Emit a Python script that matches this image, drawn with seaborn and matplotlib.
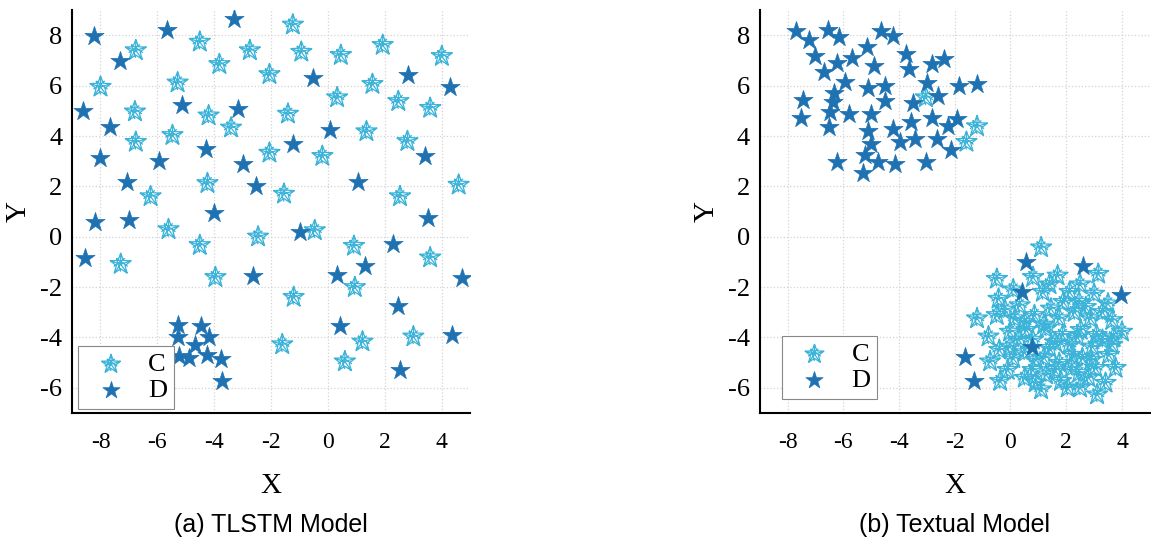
import numpy as np
import pandas as pd
import matplotlib
matplotlib.use("Agg")
import matplotlib.pyplot as plt
from matplotlib.path import Path
import seaborn as sns

# --- Data ---
CLASS_NAMES = ["C", "D"]
X_TICKS = [-8, -6, -4, -2, 0, 2, 4]
Y_TICKS = [-6, -4, -2, 0, 2, 4, 6, 8]
PANEL_TITLES = ["(a) TLSTM Model", "(b) Textual Model"]

left_c_x = [-1.24, -6.76, -4.51, -2.75, -0.94, 0.45, 1.92, 4.0, -3.82, -8.0,
            -5.29, -2.06, 1.56, 0.32, 2.47, 3.59, -6.79, -4.2, -1.41, -3.41,
            -5.47, -6.76, 1.35, 2.79, -2.06, -0.2, -4.24, 4.59, -6.24, -1.55,
            2.53, -5.61, -0.47, -2.46, -4.51, 0.91, -7.29, 3.59, -3.96, 0.94,
            -1.21, -1.61, 1.21, 3.0, 0.59]
left_c_y = [8.42, 7.4, 7.74, 7.4, 7.34, 7.21, 7.61, 7.17, 6.85, 5.95,
            6.12, 6.45, 6.06, 5.53, 5.38, 5.11, 4.97, 4.81, 4.88, 4.33,
            4.03, 3.76, 4.18, 3.79, 3.33, 3.2, 2.12, 2.06, 1.6, 1.7,
            1.6, 0.29, 0.25, 0.0, -0.34, -0.37, -1.09, -0.83, -1.61, -2.01,
            -2.4, -4.28, -4.17, -3.97, -4.96]

left_d_x = [-8.24, -5.65, -3.32, -7.33, -0.53, 2.82, 4.29, -8.61, -5.15, -3.18,
            -7.67, 0.06, -1.24, -4.29, -8.0, -5.94, -3.0, 3.41, -7.08, -2.53,
            1.06, -8.18, -7.0, -4.0, 3.53, -1.0, 2.27, -8.53, 1.29, -2.65,
            0.32, 4.71, 2.47, 0.41, 4.35, 2.53, -5.29, -4.47, -5.26, -4.2,
            -4.67, -5.24, -4.88, -4.24, -3.76, -3.73]
left_d_y = [7.99, 8.2, 8.66, 6.98, 6.32, 6.43, 5.93, 4.98, 5.23, 5.08,
            4.35, 4.25, 3.7, 3.5, 3.11, 3.02, 2.91, 3.2, 2.19, 2.03,
            2.19, 0.58, 0.68, 0.94, 0.75, 0.18, -0.28, -0.83, -1.15, -1.55,
            -1.52, -1.65, -2.75, -3.54, -3.91, -5.29, -3.49, -3.54, -3.97, -3.97,
            -4.3, -4.73, -4.8, -4.7, -4.87, -5.72]

right_c_x = [-3.04, -1.2, -1.58,
             1.1, 3.15, -0.49, 0.81, 1.69, 1.16, -0.43, 2.12, 3.0, 3.5,
             2.46, 0.33, 1.45, -1.2, -0.49, 0.16, 0.86, 1.75, 2.87, 3.65,
             4.0, -0.79, -0.02, 0.57, 1.28, 1.87, 2.52, 3.09, -0.02, 1.4,
             2.11, 2.94, 3.65, -0.73, 0.1, 0.92, 1.75, 2.58, 3.53, 3.77,
             -0.37, 0.51, 1.28, 2.46, 3.05, 3.41, 1.1, 2.05, 3.11, 1.81,
             -0.2, 0.5, 1.2, 2.3, 2.7, 3.3, 0.3, 0.8, 1.6, 2.4, 3.3,
             -0.4, 0.5, 1.2, 2.2, 2.9, -0.1, 0.8, 1.6, 2.2, 2.8, 0.9,
             2.5, 3.7, 1.9, 0.1, 2.5, 1.4]
right_c_y = [5.53, 4.38, 3.76,
             -0.43, -1.48, -1.68, -1.61, -1.55, -2.2, -2.47, -2.2, -2.27, -2.66,
             -2.6, -2.73, -2.86, -3.25, -3.12, -3.25, -3.12, -3.25, -3.25, -3.32,
             -3.78, -3.97, -3.78, -3.71, -3.65, -3.91, -3.71, -3.91, -4.37, -4.43,
             -4.3, -4.37, -4.3, -4.96, -4.83, -4.89, -5.02, -4.83, -4.7, -5.22,
             -5.74, -5.61, -5.48, -5.42, -5.22, -5.81, -6.07, -6.0, -6.27, -5.74,
             -2.9, -3.4, -3.5, -3.0, -2.8, -3.0, -4.1, -4.1, -4.2, -4.0, -4.1,
             -4.5, -4.6, -4.8, -4.7, -4.9, -5.3, -5.3, -5.3, -5.2, -5.6, -5.8,
             -6.0, -4.0, -2.6, -2.1, -1.9, -1.9]

right_d_x = [-7.7, -6.55, -4.65, -7.23, -6.14, -4.22, -5.16, -7.02, -5.7, -3.74,
             -2.39, -6.23, -4.89, -2.8, -6.7, -3.65, -5.93, -3.0, -1.85, -1.2,
             -5.1, -4.51, -6.35, -2.59, -7.44, -4.51, -6.37, -3.51, -6.46, -5.78,
             -5.0, -7.53, -2.8, -1.91, -3.57, -6.52, -4.22, -2.24, -5.13, -3.43,
             -3.98, -2.62, -5.0, -2.15, -5.22, -4.75, -6.23, -4.16, -3.04, -5.3,
             0.57, 2.6, 0.43, 3.97, 0.78, -1.62, -1.32]
right_d_y = [8.18, 8.22, 8.18, 7.83, 7.92, 7.96, 7.54, 7.17, 7.11, 7.24,
             7.08, 6.91, 6.78, 6.85, 6.54, 6.65, 6.16, 6.12, 5.99, 6.06,
             5.9, 5.99, 5.73, 5.6, 5.43, 5.4, 5.34, 5.3, 4.94, 4.88,
             4.88, 4.71, 4.71, 4.68, 4.55, 4.35, 4.29, 4.38, 4.22, 3.9,
             3.76, 3.9, 3.67, 3.44, 3.24, 2.98, 2.98, 2.91, 2.98, 2.54,
             -1.02, -1.15, -2.2, -2.31, -4.37, -4.76, -5.74]

# --- Style ---
C_COLOR = "#3cb3d8"
D_COLOR = "#1f72b2"
C_SIZE = 250
D_SIZE = 210

sns.set_style("white")
plt.rcParams["font.family"] = ["Liberation Serif", "DejaVu Serif"]
for key in ["text.color", "axes.labelcolor", "xtick.color", "ytick.color"]:
    plt.rcParams[key] = "black"


def star_outline_marker():
    """Outlined five-point star with spokes, like the 'C' glyph in the figure."""
    angles = np.pi / 2 + np.arange(10) * np.pi / 5
    radii = np.where(np.arange(10) % 2 == 0, 1.0, 0.42)
    pts = np.column_stack([radii * np.cos(angles), radii * np.sin(angles)])
    verts = list(pts) + [pts[0]]
    codes = [Path.MOVETO] + [Path.LINETO] * 9 + [Path.CLOSEPOLY]
    for i in range(0, 10, 2):
        verts += [(0, 0), pts[i]]
        codes += [Path.MOVETO, Path.LINETO]
    for a, b in [(3, 9), (1, 7), (5, 1)]:
        verts += [pts[a] * 1.6, pts[b] * 1.6]
        codes += [Path.MOVETO, Path.LINETO]
    return Path(verts, codes)


C_MARKER = star_outline_marker()


def draw_panel(ax, c_x, c_y, d_x, d_y, legend_anchor):
    c_df = pd.DataFrame({"x": c_x, "y": c_y})
    d_df = pd.DataFrame({"x": d_x, "y": d_y})
    sns.scatterplot(data=c_df, x="x", y="y", ax=ax, marker=C_MARKER, s=C_SIZE,
                    facecolor="none", edgecolor=C_COLOR, linewidth=0.9, label=CLASS_NAMES[0])
    sns.scatterplot(data=d_df, x="x", y="y", ax=ax, marker="*", s=D_SIZE,
                    color=D_COLOR, edgecolor=D_COLOR, linewidth=0.5, label=CLASS_NAMES[1])

    ax.set_xlim(-9.0, 5.0)
    ax.set_ylim(-7.0, 9.0)
    ax.set_xticks(X_TICKS)
    ax.set_yticks(Y_TICKS)
    ax.set_xticklabels([str(t) for t in X_TICKS])
    ax.set_yticklabels([str(t) for t in Y_TICKS])
    ax.tick_params(axis="both", length=0)
    ax.tick_params(axis="x", pad=14, labelsize=17)
    ax.tick_params(axis="y", pad=7, labelsize=19)
    ax.grid(True, color="#d4d4d4", linestyle=":", linewidth=0.9)
    ax.set_axisbelow(True)
    for side in ["top", "right"]:
        ax.spines[side].set_visible(False)
    for side in ["left", "bottom"]:
        ax.spines[side].set_color("black")
        ax.spines[side].set_linewidth(1.5)
    ax.set_xlabel("X", fontsize=21, labelpad=14)
    ax.set_ylabel("Y", fontsize=21, labelpad=6)

    leg = ax.legend(loc="lower left", bbox_to_anchor=legend_anchor, fontsize=19,
                    frameon=True, fancybox=False, framealpha=1, edgecolor="#888888",
                    handlelength=2.0, handletextpad=0.4, labelspacing=0.1,
                    borderpad=0.25, borderaxespad=0, markerscale=0.9)
    leg.get_frame().set_linewidth(0.8)


# --- Figure ---
fig = plt.figure(figsize=(11.51, 5.48), dpi=100)
ax_a = fig.add_axes([0.0626, 0.2464, 0.346, 0.735])
ax_b = fig.add_axes([0.660, 0.2464, 0.339, 0.735])

draw_panel(ax_a, left_c_x, left_c_y, left_d_x, left_d_y, (0.015, 0.01))
draw_panel(ax_b, right_c_x, right_c_y, right_d_x, right_d_y, (0.056, 0.035))

for ax, title in zip([ax_a, ax_b], PANEL_TITLES):
    pos = ax.get_position()
    fig.text(pos.x0 + pos.width / 2, 1 - 525 / 548, title, ha="center", va="center",
             fontsize=18, family=["Liberation Sans", "DejaVu Sans"])

fig.savefig("out.png", dpi=100)
